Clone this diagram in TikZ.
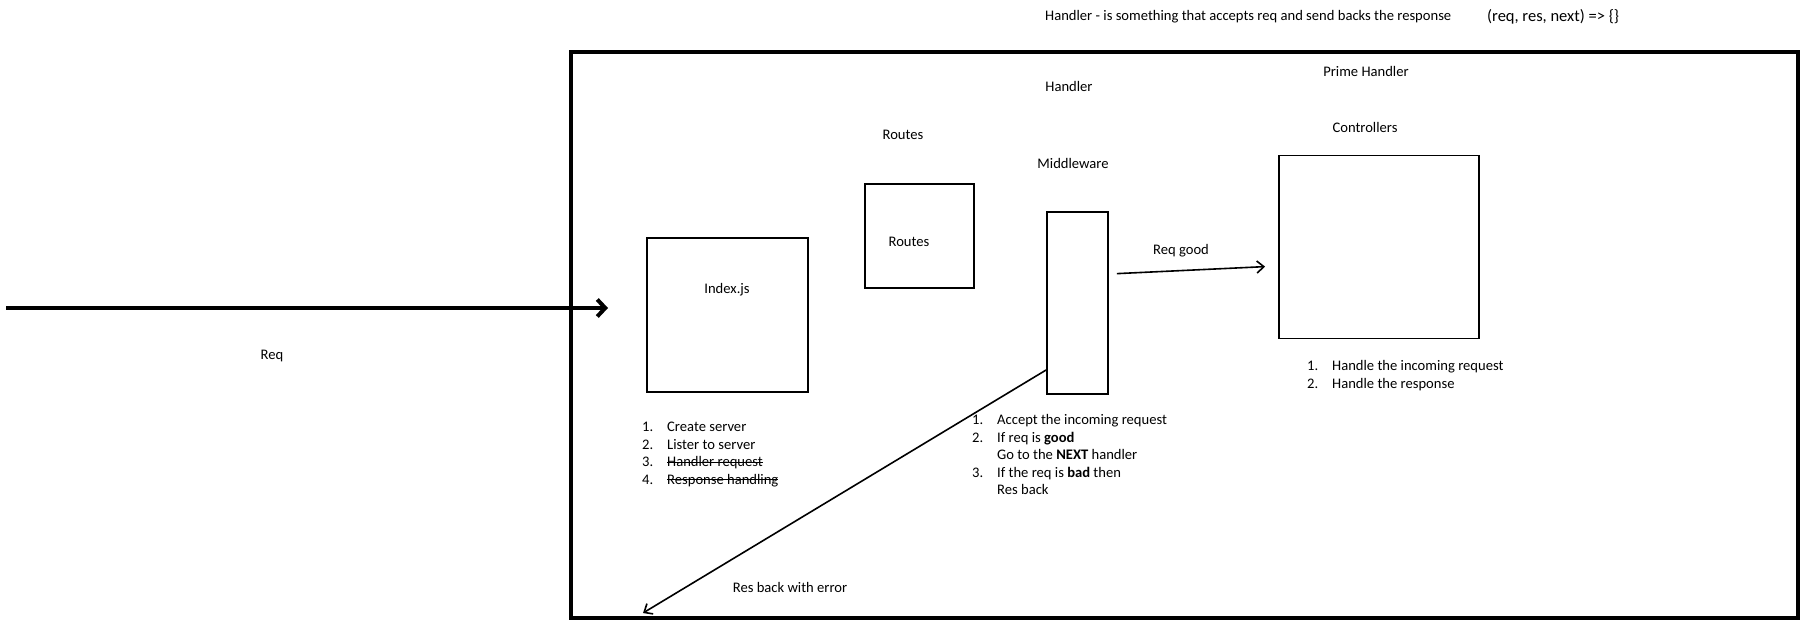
\documentclass[tikz,border=0pt]{standalone}
\usepackage{fontspec}
\setmainfont{Carlito}
\usetikzlibrary{calc,arrows.meta}
\tikzset{
  frame/.style={draw=black, line width=3.6pt, inner sep=0pt},
  box/.style={draw=black, line width=1.8pt, inner sep=0pt},
  flow/.style={draw=black, line width=4pt, -{Straight Barb[length=8pt,width=17pt]}},
  link/.style={draw=black, line width=1.6pt, -{Straight Barb[length=7pt,width=12pt]}},
  lab/.style={font=\fontsize{14.6}{17.6}\selectfont, inner sep=0pt},
  steps/.style={font=\fontsize{14.6}{17.6}\selectfont, inner sep=0pt, anchor=north west},
}
\newcommand{\steplist}[1]{\begin{tabular}[t]{@{}p{25pt}@{}l@{}}#1\end{tabular}}
\newsavebox{\strikebox}
\newcommand{\struck}[1]{\sbox{\strikebox}{#1}\rlap{\rule[0.28em]{\wd\strikebox}{0.8pt}}\usebox{\strikebox}}

\begin{document}
\begin{tikzpicture}[x=1pt, y=-1pt]
  \useasboundingbox (0,0) rectangle (1804,624);

  % header
  \node[lab, anchor=west] (defn) at (1045,17) {Handler - is something that accepts req and send backs the response};
  \node[lab, anchor=west, font=\fontsize{16.5}{18}\selectfont] (sig) at (1487,17) {(req, res, next) => \{\}};

  % handler frame
  \node[frame, minimum width=1227pt, minimum height=566pt] (outer) at (1184.5,335) {};
  \node[lab] (handlertitle) at (1069,86) {Handler};
  \node[lab] (primetitle) at (1366,71) {Prime Handler};
  \node[lab] (routestitle) at (903,135) {Routes};
  \node[lab] (ctrltitle) at (1365,127) {Controllers};
  \node[lab] (mwtitle) at (1073,163) {Middleware};

  % boxes
  \node[box, minimum width=161pt, minimum height=154pt] (index) at (727.5,315) {};
  \node[lab] (indexlab) at (727,290) {Index.js};
  \node[box, minimum width=109pt, minimum height=104pt] (routes) at (919.5,236) {};
  \node[lab] (routeslab) at (909,242) {Routes};
  \node[box, minimum width=61pt, minimum height=182pt] (mw) at (1077.5,303) {};
  \node[box, minimum width=200pt, minimum height=183pt] (ctrl) at (1379,247) {};

  % incoming request
  \coordinate (reqin) at (6,308);
  \coordinate (reqtip) at (608,308);
  \draw[flow] (reqin) -- (reqtip);
  \node[lab] (reqlab) at (272,356) {Req};

  % middleware outcomes
  \draw[link, shorten <=8pt, shorten >=13pt] ($(mw.east)+(0,-29)$) -- ($(ctrl.west)+(0,19)$);
  \node[lab] (goodlab) at (1181,251) {Req good};
  \coordinate (errtip) at (643,613);
  \draw[link] ($(mw.west)+(0,67)$) -- (errtip);
  \node[lab] (errlab) at (790,587) {Res back with error};

  % step lists
  \node[steps] (indexsteps) at (642,419) {\steplist{
    1. & Create server\\
    2. & Lister to server\\
    3. & \struck{Handler request}\\
    4. & \struck{Response handling}}};
  \node[steps] (mwsteps) at (972,412) {\steplist{
    1. & Accept the incoming request\\
    2. & If req is \textbf{good}\\
       & Go to the \textbf{NEXT} handler\\
    3. & If the req is \textbf{bad} then\\
       & Res back}};
  \node[steps] (ctrlsteps) at (1307,358) {\steplist{
    1. & Handle the incoming request\\
    2. & Handle the response}};
\end{tikzpicture}
\end{document}
